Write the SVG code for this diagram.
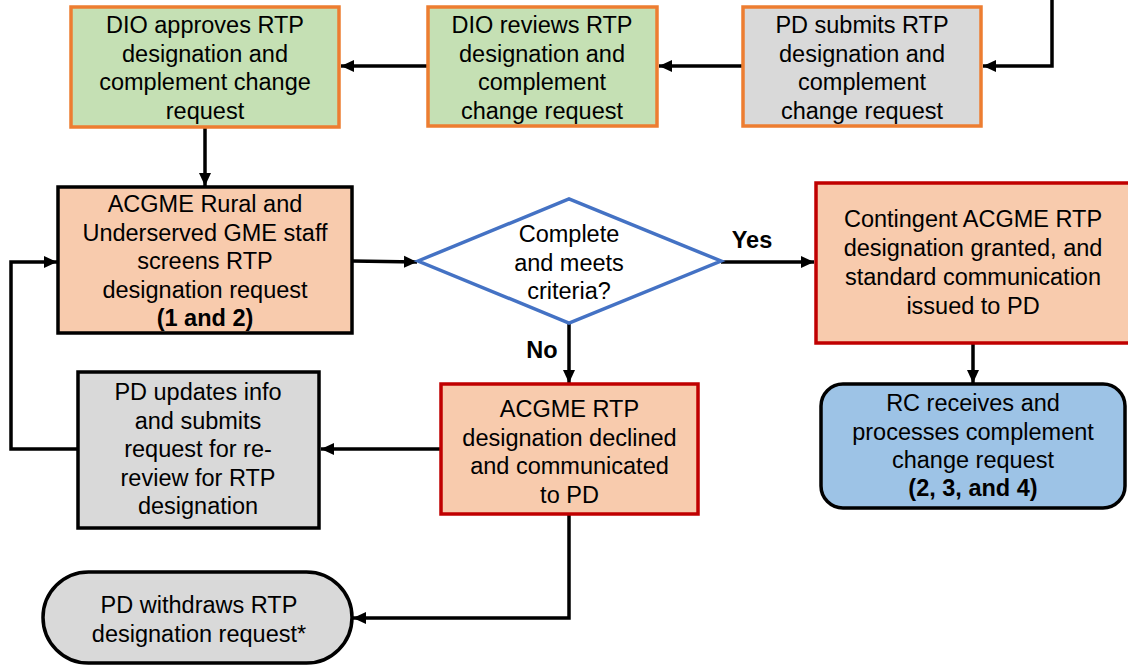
<svg xmlns="http://www.w3.org/2000/svg" width="1128" height="666" viewBox="0 0 1128 666">
<defs>
<marker id="ah" markerUnits="userSpaceOnUse" markerWidth="14" markerHeight="14" refX="13" refY="7" orient="auto">
<path d="M0,1 L13,7 L0,13 Z" fill="#000"/>
</marker>
<style>
.t{font-family:"Liberation Sans",Arial,sans-serif;font-size:23.5px;fill:#000;text-anchor:middle}
.b{font-weight:bold}
.c{fill:none;stroke:#000;stroke-width:3.5;marker-end:url(#ah)}
.green{fill:#C5E0B4;stroke:#ED7D31;stroke-width:3.5}
.grayo{fill:#D9D9D9;stroke:#ED7D31;stroke-width:3.5}
.peachk{fill:#F8CBAD;stroke:#000;stroke-width:3.5}
.peachr{fill:#F8CBAD;stroke:#C00000;stroke-width:3.5}
.grayk{fill:#D9D9D9;stroke:#000;stroke-width:3.5}
.blue{fill:#9DC3E6;stroke:#000;stroke-width:3.5}
</style>
</defs>
<g id="connectors">
<path class="c" d="M1052,0 V66 H983"/>
<path class="c" d="M743,66 H659"/>
<path class="c" d="M427,66 H341"/>
<path class="c" d="M205,127 V186"/>
<path class="c" d="M352,261 L417,262"/>
<path class="c" d="M721,262 H814"/>
<path class="c" d="M973,343 V383"/>
<path class="c" d="M569,323 V383"/>
<path class="c" d="M441,449 H321"/>
<path class="c" d="M77,449 H11 V262 H57"/>
<path class="c" d="M569,514 V618 H353"/>
<text class="t b" x="752" y="248">Yes</text>
<text class="t b" x="542" y="358">No</text>
</g>
<g id="dio-approves">
<rect class="green" x="71" y="7" width="268" height="120"/>
<text class="t" x="205" y="33">DIO approves RTP</text>
<text class="t" x="205" y="61.5">designation and</text>
<text class="t" x="205" y="90">complement change</text>
<text class="t" x="205" y="118.5">request</text>
</g>
<g id="dio-reviews">
<rect class="green" x="428" y="7" width="229" height="119"/>
<text class="t" x="542" y="33">DIO reviews RTP</text>
<text class="t" x="542" y="61.5">designation and</text>
<text class="t" x="542" y="90">complement</text>
<text class="t" x="542" y="118.5">change request</text>
</g>
<g id="pd-submits">
<rect class="grayo" x="743" y="7" width="238" height="119"/>
<text class="t" x="862" y="33">PD submits RTP</text>
<text class="t" x="862" y="61.5">designation and</text>
<text class="t" x="862" y="90">complement</text>
<text class="t" x="862" y="118.5">change request</text>
</g>
<g id="acgme-screens">
<rect class="peachk" x="58" y="187" width="294" height="146"/>
<text class="t" x="205" y="212">ACGME Rural and</text>
<text class="t" x="205" y="240.5">Underserved GME staff</text>
<text class="t" x="205" y="269">screens RTP</text>
<text class="t" x="205" y="297.5">designation request</text>
<text class="t b" x="205" y="326">(1 and 2)</text>
</g>
<g id="decision">
<polygon points="418,261 569,199 721,261 569,323" fill="#fff" stroke="#4472C4" stroke-width="3.5"/>
<text class="t" x="569" y="242">Complete</text>
<text class="t" x="569" y="270.5">and meets</text>
<text class="t" x="569" y="299">criteria?</text>
</g>
<g id="contingent">
<rect class="peachr" x="816" y="183" width="316" height="160"/>
<text class="t" x="973" y="227">Contingent ACGME RTP</text>
<text class="t" x="973" y="256">designation granted, and</text>
<text class="t" x="973" y="284.5">standard communication</text>
<text class="t" x="973" y="313.5">issued to PD</text>
</g>
<g id="rc-receives">
<rect class="blue" x="821" y="384" width="304" height="124" rx="22"/>
<text class="t" x="973" y="411">RC receives and</text>
<text class="t" x="973" y="439.5">processes complement</text>
<text class="t" x="973" y="468">change request</text>
<text class="t b" x="973" y="496">(2, 3, and 4)</text>
</g>
<g id="declined">
<rect class="peachr" x="441" y="384" width="257" height="130"/>
<text class="t" x="569.5" y="417">ACGME RTP</text>
<text class="t" x="569.5" y="445.5">designation declined</text>
<text class="t" x="569.5" y="474">and communicated</text>
<text class="t" x="569.5" y="502.5">to PD</text>
</g>
<g id="pd-updates">
<rect class="grayk" x="78" y="372" width="241" height="156"/>
<text class="t" x="198" y="400">PD updates info</text>
<text class="t" x="198" y="428.5">and submits</text>
<text class="t" x="198" y="457">request for re-</text>
<text class="t" x="198" y="485.5">review for RTP</text>
<text class="t" x="198" y="514">designation</text>
</g>
<g id="pd-withdraws">
<rect class="grayk" x="43" y="572" width="309" height="91" rx="45.5"/>
<text class="t" x="199" y="613">PD withdraws RTP</text>
<text class="t" x="199" y="641.5">designation request*</text>
</g>
</svg>
